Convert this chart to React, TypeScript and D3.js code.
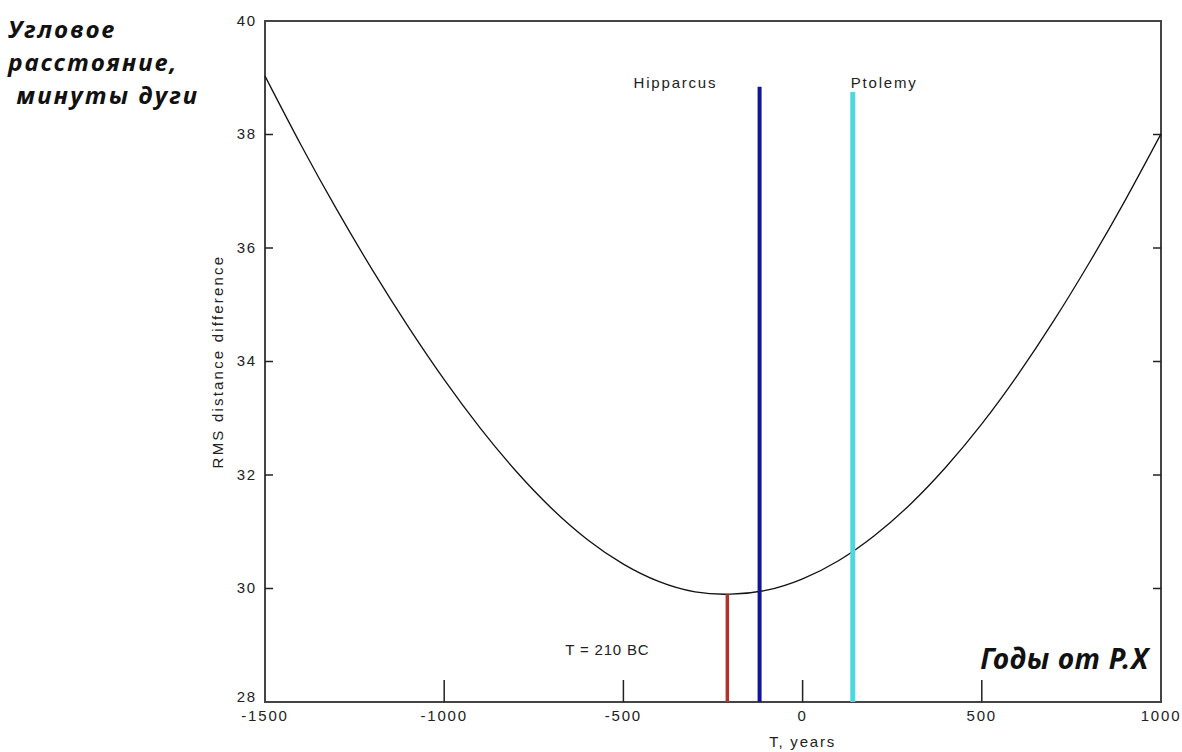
import { curveNatural, line, scaleLinear } from "d3";

const WIDTH = 1182;
const HEIGHT = 752;
const LEFT = 265;
const RIGHT = 1161;
const TOP = 21;
const BOTTOM = 702;

// RMS curve, every 100 years
const years = [
  -1500, -1400, -1300, -1200, -1100, -1000, -900, -800, -700, -600, -500, -400, -300, -200,
  -100, 0, 100, 200, 300, 400, 500, 600, 700, 800, 900, 1000,
];
const rms = [
  39.03, 37.82, 36.68, 35.61, 34.61, 33.68, 32.83, 32.07, 31.41, 30.86, 30.43, 30.12, 29.94, 29.9,
  29.97, 30.17, 30.49, 30.93, 31.48, 32.14, 32.9, 33.76, 34.71, 35.74, 36.84, 38.01,
];

const xTicks = [-1500, -1000, -500, 0, 500, 1000];
const xTickLabels = ["-1500", "-1000", "-500", "0", "500", "1000"];
const yTicks = [28, 30, 32, 34, 36, 38, 40];

const minimumYear = -210;
const minimumRms = 29.9;
const minimumLabel = "T = 210 BC";

const observerNames = ["Hipparcus", "Ptolemy"];
const observerYears = [-120, 140];
const observerTops = [38.84, 38.75];
const observerColors = ["#14149a", "#4fd6e2"];

const titleLines = ["Угловое", "расстояние,", " минуты дуги"];
const axisNote = "Годы от Р.Х";

const tickFont = { fontFamily: "Liberation Sans, Arial, sans-serif", fontSize: 15, letterSpacing: 1.8, fill: "#222" };
const noteFont = { fontFamily: "Noto Sans, Liberation Sans, sans-serif", fontWeight: 700, fontStyle: "italic", fill: "#111" };

export default function App() {
  const x = scaleLinear().domain([-1500, 1000]).range([LEFT, RIGHT]);
  const y = scaleLinear().domain([28, 40]).range([BOTTOM, TOP]);
  const curvePath = line<number>()
    .x((_, i) => x(years[i]))
    .y((v) => y(v))
    .curve(curveNatural)(rms);

  return (
    <svg width={WIDTH} height={HEIGHT} style={{ position: "absolute", left: 0, top: 0, background: "#fff" }}>
      <rect x={0} y={0} width={WIDTH} height={HEIGHT} fill="#fff" />

      {titleLines.map((t, i) => (
        <text key={i} x={8} y={38 + i * 33} fontSize={24} letterSpacing={2.2} style={{ whiteSpace: "pre" }} {...noteFont}>
          {t}
        </text>
      ))}

      {/* frame */}
      <rect x={LEFT} y={TOP} width={RIGHT - LEFT} height={BOTTOM - TOP} fill="none" stroke="#444" strokeWidth={2} />

      {yTicks.map((t) => (
        <g key={t}>
          {t > 28 && t < 40 ? (
            <>
              <line x1={LEFT} x2={LEFT + 8} y1={y(t)} y2={y(t)} stroke="#222" strokeWidth={1.5} />
              <line x1={RIGHT - 8} x2={RIGHT} y1={y(t)} y2={y(t)} stroke="#222" strokeWidth={1.5} />
            </>
          ) : null}
          <text x={LEFT - 8} y={y(t) + (t === 28 ? -4 : 1)} textAnchor="end" dominantBaseline="middle" {...tickFont}>
            {t}
          </text>
        </g>
      ))}

      {xTicks.map((t, i) => (
        <g key={t}>
          {i > 0 && i < xTicks.length - 1 ? (
            <line x1={x(t)} x2={x(t)} y1={BOTTOM} y2={BOTTOM - 22} stroke="#222" strokeWidth={1.5} />
          ) : null}
          <text x={x(t)} y={BOTTOM + 15} textAnchor="middle" dominantBaseline="middle" {...tickFont}>
            {xTickLabels[i]}
          </text>
        </g>
      ))}

      <text x={x(0)} y={BOTTOM + 45} textAnchor="middle" {...tickFont}>
        T, years
      </text>
      <text
        transform={`translate(${LEFT - 42},${(TOP + BOTTOM) / 2}) rotate(-90)`}
        textAnchor="middle"
        {...tickFont}
        letterSpacing={2.2}
      >
        RMS distance difference
      </text>

      {curvePath ? <path d={curvePath} fill="none" stroke="#111" strokeWidth={1.3} /> : null}

      <line x1={x(minimumYear)} x2={x(minimumYear)} y1={y(28)} y2={y(minimumRms)} stroke="#b3322b" strokeWidth={3.5} />
      <text x={x(minimumYear) - 162} y={y(28) - 47} {...tickFont} letterSpacing={0.8}>
        {minimumLabel}
      </text>

      {observerNames.map((name, i) => (
        <g key={name}>
          <line
            x1={x(observerYears[i])}
            x2={x(observerYears[i])}
            y1={y(28)}
            y2={y(observerTops[i])}
            stroke={observerColors[i]}
            strokeWidth={i === 0 ? 4 : 5}
          />
          <text x={x(observerYears[i]) + (i === 0 ? -126 : -2)} y={88} {...tickFont}>
            {name}
          </text>
        </g>
      ))}

      <text x={RIGHT - 12} y={BOTTOM - 33} textAnchor="end" fontSize={28} letterSpacing={0.8} {...noteFont}>
        {axisNote}
      </text>
    </svg>
  );
}
